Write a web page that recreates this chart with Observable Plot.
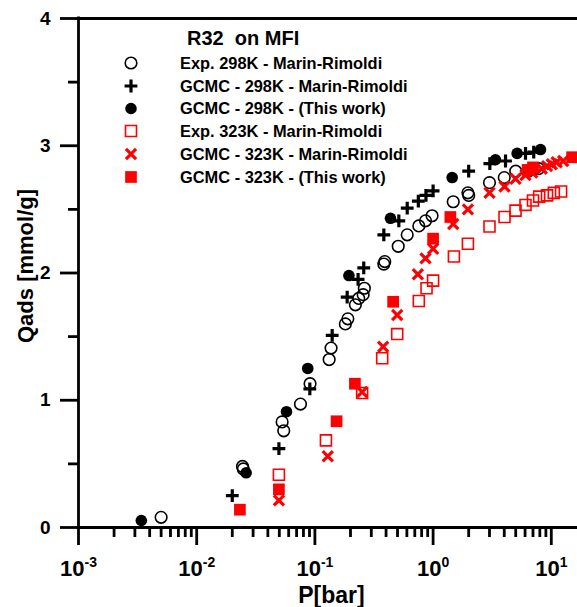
<!DOCTYPE html>
<html><head><meta charset="utf-8">
<script src="https://cdn.jsdelivr.net/npm/d3@7"></script>
<script src="https://cdn.jsdelivr.net/npm/@observablehq/plot@0.6"></script>
<style>
html,body{margin:0;padding:0;background:#fff;}
#wrap{position:relative;width:577px;height:607px;overflow:hidden;font-family:"Liberation Sans",Arial,sans-serif;}
#wrap svg{position:absolute;left:0;top:0;}
</style></head><body><div id="wrap"></div>
<script>
// ---- data (P in bar, Q in mmol/g) ----
const exp298P = [0.0050, 0.0244, 0.0248, 0.0528, 0.0545, 0.0755, 0.091, 0.132, 0.137, 0.181, 0.19, 0.22, 0.235, 0.256, 0.262, 0.383, 0.39, 0.507, 0.604, 0.757, 0.863, 0.98, 1.48, 1.97, 2.0, 3.0, 4.0, 5.0, 6.4, 7.8];
const exp298Q = [0.08, 0.48, 0.46, 0.83, 0.76, 0.97, 1.13, 1.32, 1.41, 1.60, 1.64, 1.75, 1.80, 1.83, 1.88, 2.07, 2.09, 2.21, 2.30, 2.37, 2.41, 2.45, 2.56, 2.63, 2.61, 2.71, 2.75, 2.80, 2.80, 2.82];

const gcmc298MRP = [0.020, 0.0496, 0.0906, 0.140, 0.1875, 0.232, 0.259, 0.383, 0.513, 0.604, 0.75, 0.87, 1.0, 2.0, 3.02, 4.1, 6.05, 7.1];
const gcmc298MRQ = [0.25, 0.62, 1.09, 1.51, 1.81, 1.95, 2.04, 2.30, 2.41, 2.51, 2.565, 2.61, 2.645, 2.80, 2.86, 2.88, 2.94, 2.95];

const gcmc298TWP = [0.0034, 0.0262, 0.0575, 0.087, 0.194, 0.436, 1.45, 3.37, 5.14, 8.1];
const gcmc298TWQ = [0.055, 0.43, 0.91, 1.25, 1.98, 2.43, 2.75, 2.89, 2.94, 2.97];

const exp323P = [0.0496, 0.124, 0.251, 0.371, 0.497, 0.757, 0.88, 1.0, 1.50, 1.97, 3.0, 4.02, 4.98, 6.05, 7.0, 7.9, 9.2, 10.5, 12.1];
const exp323Q = [0.415, 0.685, 1.057, 1.33, 1.52, 1.78, 1.88, 1.94, 2.13, 2.23, 2.365, 2.44, 2.49, 2.535, 2.57, 2.60, 2.61, 2.63, 2.64];

const gcmc323MRP = [0.0496, 0.1285, 0.251, 0.378, 0.497, 0.743, 0.863, 1.0, 1.48, 1.97, 3.0, 4.02, 4.98, 6.05, 6.9, 8.3, 9.2, 10.1, 11.1, 12.6];
const gcmc323MRQ = [0.213, 0.56, 1.065, 1.42, 1.67, 1.99, 2.115, 2.19, 2.385, 2.50, 2.63, 2.68, 2.74, 2.77, 2.79, 2.82, 2.84, 2.855, 2.87, 2.88];

const gcmc323TWP = [0.0232, 0.0496, 0.1525, 0.218, 0.459, 1.0, 1.40, 6.3, 7.0, 15.0];
const gcmc323TWQ = [0.14, 0.30, 0.835, 1.13, 1.774, 2.27, 2.44, 2.81, 2.83, 2.91];

const seriesNames = [
  "Exp. 298K - Marin-Rimoldi",
  "GCMC - 298K - Marin-Rimoldi",
  "GCMC - 298K - (This work)",
  "Exp. 323K - Marin-Rimoldi",
  "GCMC - 323K - Marin-Rimoldi",
  "GCMC - 323K - (This work)"
];
const chartTitle = "R32\u00a0 on MFI";
const xTitle = "P[bar]";
const yTitle = "Qads [mmol/g]";

const xMajorTicks = [1e-3, 1e-2, 1e-1, 1, 10];
const xTickLabels = ["10^-3", "10^-2", "10^-1", "10^0", "10^1"];
const yMajorTicks = [0, 1, 2, 3, 4];
const yTickLabels = ["0", "1", "2", "3", "4"];
const yMinorTicks = [0.5, 1.5, 2.5, 3.5];
const xMax = 16.66;

// ---- build ----
const zip = (P, Q) => P.map((p, i) => ({P: p, Q: Q[i]}));
const xMinorTicks = [];
for (const dec of [1e-3, 1e-2, 1e-1, 1, 10]) for (let k = 2; k <= 9; k++) { const v = k * dec; if (v < xMax) xMinorTicks.push(v); }

const RED = "#ff0000";
const styles = [
  {symbol: "circle", r: 5.8, stroke: "black", strokeWidth: 1.6, fill: "none"},
  {symbol: "plus", r: 4.2, stroke: "black", strokeWidth: 3.2, fill: "none"},
  {symbol: "circle", r: 5.8, fill: "black", stroke: "none"},
  {symbol: "square", r: 6.2, stroke: RED, strokeWidth: 1.6, fill: "none"},
  {symbol: "times", r: 4.7, stroke: RED, strokeWidth: 3.2, fill: "none"},
  {symbol: "square", r: 6.6, fill: RED, stroke: "none"}
];
const datasets = [
  zip(exp298P, exp298Q), zip(gcmc298MRP, gcmc298MRQ), zip(gcmc298TWP, gcmc298TWQ),
  zip(exp323P, exp323Q), zip(gcmc323MRP, gcmc323MRQ), zip(gcmc323TWP, gcmc323TWQ)
];

const LW = 2.8;
const plot = Plot.plot({
  width: 577, height: 607,
  marginLeft: 78, marginRight: 0, marginTop: 18, marginBottom: 80,
  style: {fontFamily: "'Liberation Sans', Arial, sans-serif", background: "transparent", overflow: "visible", color: "black"},
  x: {type: "log", domain: [1e-3, xMax], label: null},
  y: {domain: [0, 4], label: null},
  marks: [
    Plot.axisX({ticks: xMinorTicks, tickSize: 10, tickFormat: () => "", strokeWidth: LW, label: null}),
    Plot.axisX({ticks: xMajorTicks, tickSize: 18, tickPadding: 15, strokeWidth: LW, label: null,
      tickFormat: d => xTickLabels[xMajorTicks.indexOf(d)], fontSize: 22, fontWeight: "bold"}),
    Plot.axisY({ticks: yMinorTicks, tickSize: 10, tickFormat: () => "", strokeWidth: LW, label: null}),
    Plot.axisY({ticks: yMajorTicks, tickSize: 18, tickPadding: 10, strokeWidth: LW, label: null,
      tickFormat: d => yTickLabels[yMajorTicks.indexOf(d)], fontSize: 19, fontWeight: "bold"}),
    Plot.ruleY([0, 4], {strokeWidth: LW, strokeLinecap: "square"}),
    Plot.ruleX([1e-3], {strokeWidth: LW, strokeLinecap: "square"}),
    ...datasets.map((d, i) => Plot.dot(d, {x: "P", y: "Q", ...styles[i]}))
  ]
});
document.getElementById("wrap").appendChild(plot);

// superscript exponents on x tick labels
d3.select(plot).selectAll('g[aria-label="x-axis tick label"] text').each(function() {
  const s = this.textContent;
  const parts = s.split("^");
  if (parts.length === 2) {
    const t = d3.select(this);
    t.text("");
    t.append("tspan").text(parts[0]);
    t.append("tspan").attr("dy", "-9").attr("font-size", "14px").text(parts[1]);
  }
});

// ---- overlay: title, legend, axis titles ----
const ov = d3.select("#wrap").append("svg").attr("width", 577).attr("height", 607)
  .style("font-family", "'Liberation Sans', Arial, sans-serif").style("font-weight", "bold");

ov.append("text").attr("x", 187).attr("y", 45).attr("font-size", 20).text(chartTitle);

const rowY = [63, 86, 108.5, 131, 154, 177];
const symMap = {circle: d3.symbolCircle, plus: d3.symbolPlus, square: d3.symbolSquare, times: d3.symbolTimes};
seriesNames.forEach((name, i) => {
  const st = styles[i];
  ov.append("path")
    .attr("transform", `translate(131,${rowY[i]})`)
    .attr("d", d3.symbol(symMap[st.symbol], Math.PI * st.r * st.r)())
    .attr("fill", st.fill).attr("stroke", st.stroke).attr("stroke-width", st.strokeWidth || 0);
  ov.append("text").attr("x", 180).attr("y", rowY[i]).attr("dy", "0.36em")
    .attr("font-size", 16.4).text(name);
});

ov.append("text").attr("x", 331.5).attr("y", 603).attr("text-anchor", "middle")
  .attr("font-size", 23).text(xTitle);
ov.append("text").attr("transform", "translate(33,266) rotate(-90)").attr("text-anchor", "middle")
  .attr("font-size", 22).text(yTitle);
</script>
</body></html>
